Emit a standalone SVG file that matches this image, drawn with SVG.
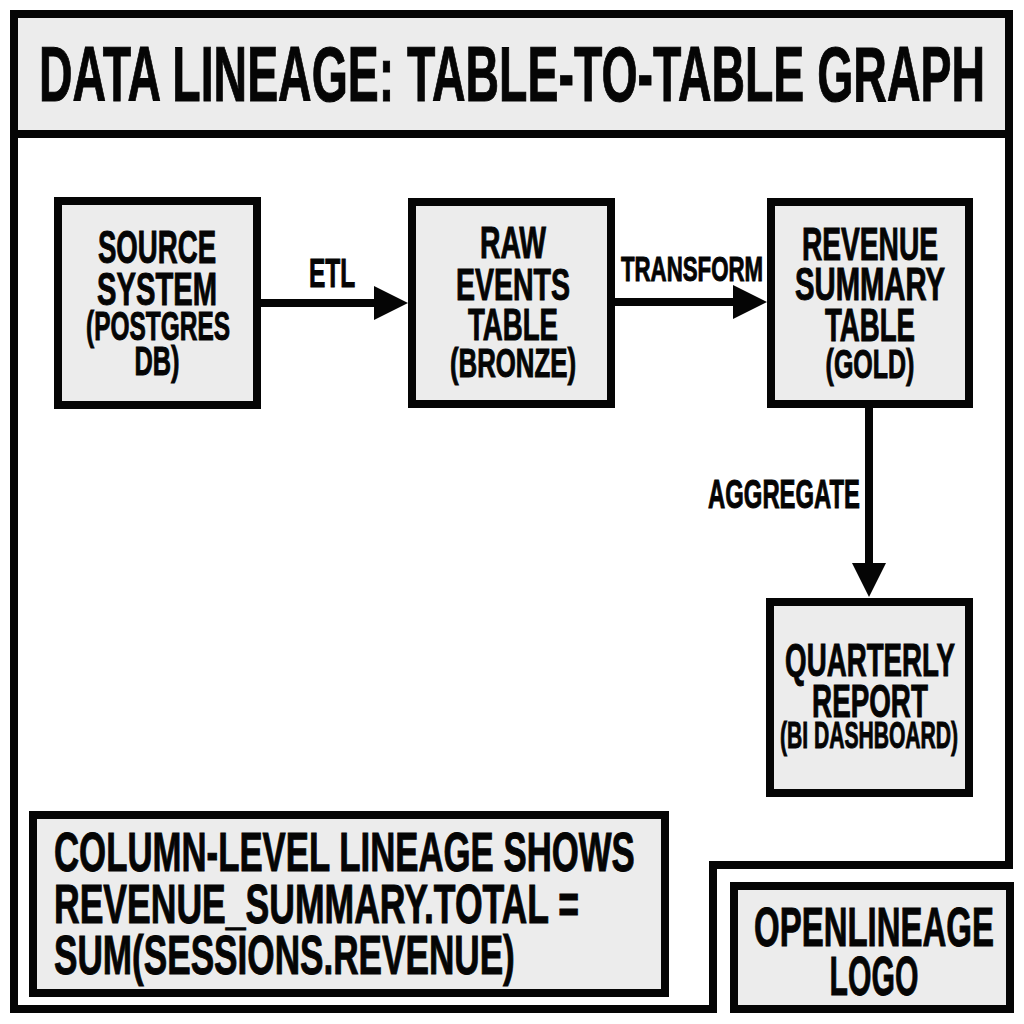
<svg xmlns="http://www.w3.org/2000/svg" width="1024" height="1024" viewBox="0 0 1024 1024">
<defs><marker id="ah" markerUnits="userSpaceOnUse" markerWidth="34" markerHeight="34" refX="10" refY="17" orient="auto"><path d="M0 0L34 17L0 34Z" fill="#050505"/></marker></defs>
<style>
.box{fill:#ececec;stroke:#050505;stroke-width:8}
.t{font-family:"Liberation Sans","DejaVu Sans",sans-serif;font-weight:700;fill:#050505;stroke:#050505;stroke-width:1;text-anchor:middle}
.s{text-anchor:start}
.c{fill:none;stroke:#050505;stroke-width:8}
</style>
<rect width="1024" height="1024" fill="#fff"/>
<path id="frame" class="c" d="M14 14H1009V865H713V1009H14Z"/>
<g id="title"><rect class="box" x="14" y="14" width="995" height="120"/><text class="t" transform="translate(512 101) scale(.68 1)" font-size="78" textLength="1391" lengthAdjust="spacingAndGlyphs">DATA LINEAGE: TABLE-TO-TABLE GRAPH</text></g>
<g id="connectors">
<path class="c" d="M259 303H384" marker-end="url(#ah)"/>
<path class="c" d="M613 302H743" marker-end="url(#ah)"/>
<path class="c" d="M869 406V573" marker-end="url(#ah)"/>
</g>
<g id="source"><rect class="box" x="58" y="201" width="199" height="204"/>
<text class="t" transform="translate(157 263) scale(.6 1)" font-size="47" textLength="197" lengthAdjust="spacingAndGlyphs">SOURCE</text>
<text class="t" transform="translate(157 305) scale(.6 1)" font-size="47" textLength="200" lengthAdjust="spacingAndGlyphs">SYSTEM</text>
<text class="t" transform="translate(158 340) scale(.6 1)" font-size="40" textLength="240" lengthAdjust="spacingAndGlyphs">(POSTGRES</text>
<text class="t" transform="translate(157 375) scale(.6 1)" font-size="40" textLength="75" lengthAdjust="spacingAndGlyphs">DB)</text></g>
<g id="raw"><rect class="box" x="412" y="202" width="199" height="202"/>
<text class="t" transform="translate(513 258) scale(.6 1)" font-size="45" textLength="110" lengthAdjust="spacingAndGlyphs">RAW</text>
<text class="t" transform="translate(513 300) scale(.6 1)" font-size="45" textLength="190" lengthAdjust="spacingAndGlyphs">EVENTS</text>
<text class="t" transform="translate(513 340) scale(.6 1)" font-size="45" textLength="150" lengthAdjust="spacingAndGlyphs">TABLE</text>
<text class="t" transform="translate(513 377) scale(.6 1)" font-size="40" textLength="210" lengthAdjust="spacingAndGlyphs">(BRONZE)</text></g>
<g id="revenue"><rect class="box" x="771" y="202" width="198" height="202"/>
<text class="t" transform="translate(870 260) scale(.6 1)" font-size="46" textLength="227" lengthAdjust="spacingAndGlyphs">REVENUE</text>
<text class="t" transform="translate(870 300) scale(.6 1)" font-size="46" textLength="250" lengthAdjust="spacingAndGlyphs">SUMMARY</text>
<text class="t" transform="translate(870 341) scale(.6 1)" font-size="46" textLength="150" lengthAdjust="spacingAndGlyphs">TABLE</text>
<text class="t" transform="translate(870 378) scale(.6 1)" font-size="40" textLength="148" lengthAdjust="spacingAndGlyphs">(GOLD)</text></g>
<g id="report"><rect class="box" x="770" y="602" width="199" height="191"/>
<text class="t" transform="translate(870 676) scale(.6 1)" font-size="47" textLength="283" lengthAdjust="spacingAndGlyphs">QUARTERLY</text>
<text class="t" transform="translate(870 717) scale(.6 1)" font-size="47" textLength="193" lengthAdjust="spacingAndGlyphs">REPORT</text>
<text class="t" transform="translate(869 748) scale(.6 1)" font-size="37" textLength="297" lengthAdjust="spacingAndGlyphs">(BI DASHBOARD)</text></g>
<g id="labels">
<text class="t" transform="translate(332 287) scale(.6 1)" font-size="40" textLength="77" lengthAdjust="spacingAndGlyphs">ETL</text>
<text class="t" transform="translate(692 281) scale(.6 1)" font-size="36" textLength="237" lengthAdjust="spacingAndGlyphs">TRANSFORM</text>
<text class="t" transform="translate(784 508) scale(.6 1)" font-size="40" textLength="253" lengthAdjust="spacingAndGlyphs">AGGREGATE</text>
</g>
<g id="note"><rect class="box" x="33" y="815" width="632" height="178"/>
<text class="t s" transform="translate(54 871) scale(.6 1)" font-size="56" textLength="968" lengthAdjust="spacingAndGlyphs">COLUMN-LEVEL LINEAGE SHOWS</text>
<text class="t s" transform="translate(54 923) scale(.6 1)" font-size="56" textLength="875" lengthAdjust="spacingAndGlyphs">REVENUE_SUMMARY.TOTAL =</text>
<text class="t s" transform="translate(54 974) scale(.6 1)" font-size="56" textLength="768" lengthAdjust="spacingAndGlyphs">SUM(SESSIONS.REVENUE)</text></g>
<g id="logo"><rect class="box" x="734" y="886" width="276" height="123"/>
<text class="t" transform="translate(874 946) scale(.6 1)" font-size="56" textLength="400" lengthAdjust="spacingAndGlyphs">OPENLINEAGE</text>
<text class="t" transform="translate(874 995) scale(.6 1)" font-size="56" textLength="148" lengthAdjust="spacingAndGlyphs">LOGO</text></g>
</svg>
